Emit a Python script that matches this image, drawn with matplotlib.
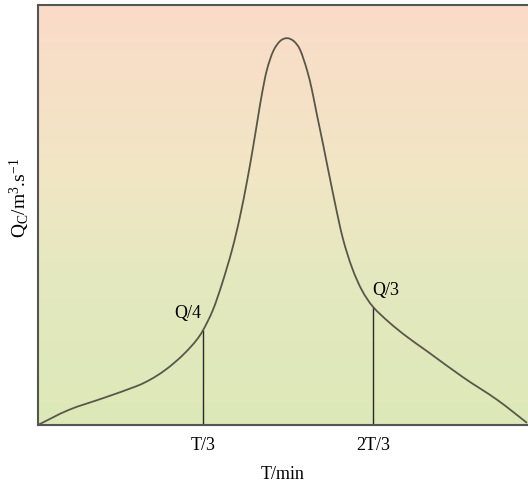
import matplotlib.pyplot as plt
import numpy as np
from matplotlib.colors import LinearSegmentedColormap
from matplotlib.path import Path
from matplotlib.patches import PathPatch

plt.switch_backend("Agg")
plt.rcParams["font.family"] = ["Liberation Serif", "DejaVu Serif"]
plt.rcParams["mathtext.fontset"] = "custom"
plt.rcParams["mathtext.rm"] = "Liberation Serif"
plt.rcParams["mathtext.it"] = "Liberation Serif:italic"

# hidrograma (t en fracción de T, q en fracción del eje)
t = [0.000, 0.063, 0.133, 0.200, 0.229, 0.255, 0.280, 0.302, 0.322, 0.337,
     0.357, 0.376, 0.396, 0.412, 0.427, 0.439, 0.449, 0.457, 0.467, 0.480,
     0.494, 0.508, 0.522, 0.535, 0.549, 0.559, 0.569, 0.582, 0.604, 0.622,
     0.641, 0.661, 0.684, 0.718, 0.753, 0.796, 0.867, 0.937, 0.998]
q = [0.000, 0.036, 0.064, 0.092, 0.108, 0.127, 0.150, 0.174, 0.200, 0.226,
     0.274, 0.338, 0.417, 0.495, 0.583, 0.662, 0.733, 0.788, 0.845, 0.890,
     0.914, 0.921, 0.914, 0.893, 0.845, 0.798, 0.740, 0.667, 0.540, 0.445,
     0.374, 0.321, 0.281, 0.243, 0.210, 0.174, 0.114, 0.060, 0.005]

marcas_t = [0.337, 0.684]
marcas_q = [0.226, 0.281]
marcas_txt = ["T/3", "2T/3"]
etiquetas_q = ["Q/4", "Q/3"]


def curva_suave(xs, ys):
    """Path Bezier (Catmull-Rom) que pasa por los puntos leídos."""
    p = np.column_stack([xs, ys])
    ext = np.vstack([p[0], p, p[-1]])
    verts = [p[0]]
    codes = [Path.MOVETO]
    for i in range(1, len(ext) - 2):
        p0, p1, p2, p3 = ext[i - 1], ext[i], ext[i + 1], ext[i + 2]
        verts += [p1 + (p2 - p0) / 6, p2 - (p3 - p1) / 6, p2]
        codes += [Path.CURVE4] * 3
    return Path(verts, codes)


fig = plt.figure(figsize=(5.28, 4.87), dpi=100)
ax = fig.add_axes([38 / 528, 62 / 487, 490 / 528, 420 / 487])

# fondo degradado: verde abajo -> salmón arriba
cmap = LinearSegmentedColormap.from_list(
    "fondo", [(0.0, "#dde8b8"), (0.35, "#e4e9bf"), (0.6, "#f1e6c4"), (1.0, "#fadbc9")])
grad = np.linspace(0, 1, 256).reshape(-1, 1)
ax.imshow(grad, cmap=cmap, origin="lower", extent=[0, 1, 0, 1], aspect="auto", zorder=0)

ax.add_patch(PathPatch(curva_suave(t, q), facecolor="none", edgecolor="#58574a",
                       linewidth=1.3, zorder=3))
ax.vlines(marcas_t, 0, marcas_q, color="#2a2a2a", linewidth=1.0, zorder=2)

ax.text(marcas_t[0] - 0.031, marcas_q[0] + 0.029, etiquetas_q[0], fontsize=13,
        ha="center", va="baseline")
ax.text(marcas_t[1] + 0.026, marcas_q[1] + 0.029, etiquetas_q[1], fontsize=13,
        ha="center", va="baseline")

ax.set_xlim(0, 1)
ax.set_ylim(0, 1)
ax.set_xticks(marcas_t)
ax.set_xticklabels(marcas_txt, fontsize=13)
ax.set_yticks([])
ax.tick_params(axis="x", length=0, pad=9)
ax.set_xlabel("T/min", fontsize=13, labelpad=8)
ax.set_ylabel(r"Q$_\mathregular{C}$/m$^\mathregular{3}$.s$^\mathregular{-1}$", fontsize=14)
ax.yaxis.set_label_coords(-0.012, 0.54)

for lado in ("left", "top", "bottom"):
    ax.spines[lado].set_color("#555555")
    ax.spines[lado].set_linewidth(1.5)
ax.spines["right"].set_visible(False)

fig.savefig("out.png", dpi=100)
